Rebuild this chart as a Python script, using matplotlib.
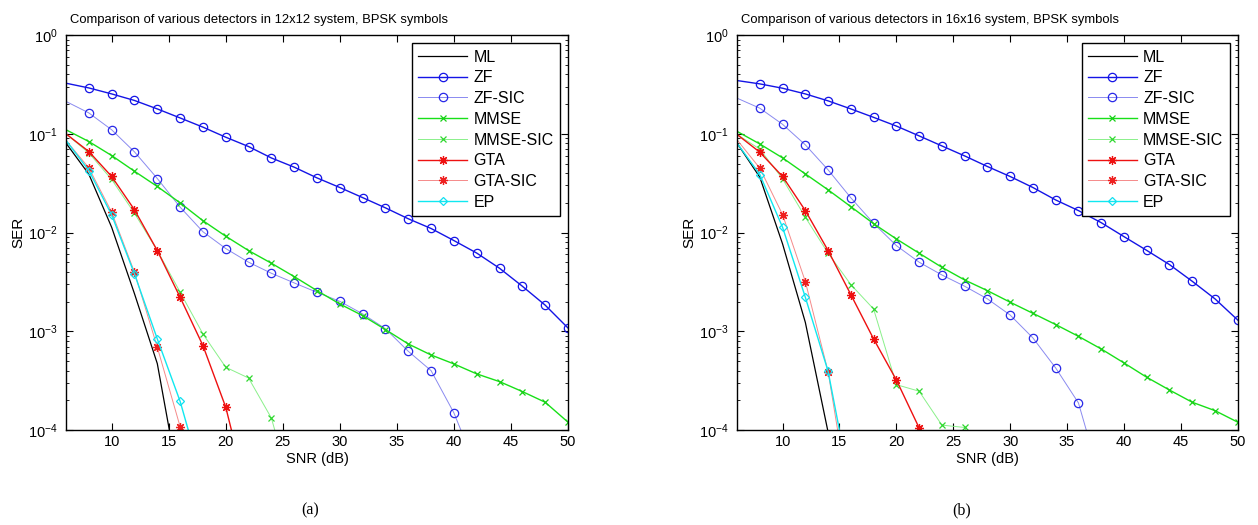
import numpy as np
import matplotlib
matplotlib.use("Agg")
import matplotlib.pyplot as plt

plt.rcParams["font.family"] = ["Liberation Sans", "DejaVu Sans"]
plt.rcParams["mathtext.fontset"] = "custom"
plt.rcParams["mathtext.rm"] = "Liberation Sans"
plt.rcParams["mathtext.it"] = "Liberation Sans:italic"

# SNR grid (dB), 2 dB steps
snr = np.arange(6, 52, 2)

# 12x12 system
zf_12 = [0.326, 0.292, 0.254, 0.218, 0.179, 0.145, 0.117, 0.0925, 0.0744, 0.057, 0.046, 0.0358,
         0.0286, 0.0226, 0.0178, 0.0138, 0.011, 0.0083, 0.0062, 0.00435, 0.00286, 0.00184, 0.00108]
zfsic_12 = [0.213, 0.163, 0.11, 0.0657, 0.0353, 0.0181, 0.0102, 0.00689, 0.00501, 0.00387, 0.00309,
            0.00248, 0.00201, 0.0015, 0.00106, 0.000627, 0.000399, 0.000149, 4e-5]
mmse_12 = [0.11, 0.0836, 0.0603, 0.0418, 0.0293, 0.02, 0.0132, 0.00918, 0.00657, 0.00489, 0.00358,
           0.00258, 0.00189, 0.00144, 0.00104, 0.000744, 0.000575, 0.000467, 0.00037, 0.000309,
           0.000245, 0.000191, 0.00012]
mmsesic_12 = [0.1, 0.064, 0.0345, 0.0157, 0.00657, 0.00249, 0.00094, 0.000432, 0.000336, 0.000132, 2e-5]
gta_12 = [0.1, 0.0662, 0.037, 0.017, 0.00657, 0.00221, 0.000716, 0.00017, 2e-5]
gtasic_12 = [0.0857, 0.0452, 0.0161, 0.00396, 0.000689, 0.000108, 1.5e-5]
ep_12 = [0.0857, 0.0425, 0.0151, 0.00381, 0.000836, 0.000195, 3e-5]
ml_12 = [0.0805, 0.039, 0.0113, 0.0024, 0.00047, 2.5e-5]

# 16x16 system
zf_16 = [0.347, 0.321, 0.29, 0.254, 0.216, 0.179, 0.147, 0.12, 0.0954, 0.0755, 0.0598, 0.0467,
         0.037, 0.0286, 0.0214, 0.0167, 0.0126, 0.0091, 0.0066, 0.00474, 0.00321, 0.00213, 0.0013]
zfsic_16 = [0.23, 0.182, 0.125, 0.0774, 0.0432, 0.0225, 0.0124, 0.00738, 0.00501, 0.00372, 0.00286,
            0.00213, 0.00146, 0.000856, 0.000425, 0.000188, 3e-5]
mmse_16 = [0.106, 0.079, 0.0571, 0.0393, 0.0271, 0.0183, 0.0123, 0.00862, 0.00618, 0.00445, 0.00331,
           0.00258, 0.00197, 0.00152, 0.00117, 0.000889, 0.000662, 0.000478, 0.000342, 0.000254,
           0.000191, 0.000157, 0.00012]
mmsesic_16 = [0.0986, 0.07, 0.035, 0.0143, 0.00618, 0.00297, 0.00168, 0.000288, 0.000247, 0.000112,
              0.000106, 3e-5]
gta_16 = [0.0986, 0.0652, 0.037, 0.0167, 0.00657, 0.00235, 0.000836, 0.000321, 0.000105, 1.5e-5]
gtasic_16 = [0.087, 0.0449, 0.0152, 0.00319, 0.00039, 1.5e-5]
ep_16 = [0.0805, 0.0387, 0.0113, 0.00221, 0.000393, 2.5e-5]
ml_16 = [0.0805, 0.0364, 0.00767, 0.00123, 9.5e-5]

labels = ["ML", "ZF", "ZF-SIC", "MMSE", "MMSE-SIC", "GTA", "GTA-SIC", "EP"]

# line colour, marker colour, marker, marker size, line width
styles = [
    ("black", "black", None, 0, 0.9),
    ("#1414e6", "#1414e6", "o", 6, 1.0),
    ("#8a8af0", "#2828e8", "o", 6, 0.7),
    ("#18e018", "#18d018", "x", 5, 1.0),
    ("#8af08a", "#30d830", "x", 5, 0.7),
    ("#ee1010", "#ee1010", (8, 2, 0), 6.5, 1.0),
    ("#f58a8a", "#ee2020", (8, 2, 0), 6.5, 0.7),
    ("#10e8f0", "#10e0f0", "D", 4.5, 1.0),
]


def draw_panel(ax, series, title):
    for (y, lab, (lc, mc, mk, ms, lw)) in zip(series, labels, styles):
        x = snr[:len(y)]
        kw = {}
        if mk is not None:
            kw = dict(marker=mk, markevery=slice(1, None), markerfacecolor="none",
                      markeredgecolor=mc, markeredgewidth=0.9, markersize=ms)
        ax.plot(x, y, color=lc, linewidth=lw, label=lab, **kw)

    ax.set_yscale("log")
    ax.set_xlim(6, 50)
    ax.set_ylim(1e-4, 1)
    ax.set_xticks(np.arange(10, 55, 5))
    ax.tick_params(which="both", direction="in", top=True, right=True, labelsize=10.5)
    ax.tick_params(which="major", length=5, width=0.8)
    ax.tick_params(which="minor", length=2.5, width=0.6)
    ax.tick_params(axis="y", pad=6)
    ax.set_xlabel("SNR (dB)", fontsize=10.5, labelpad=2)
    ax.set_ylabel("SER", fontsize=11, labelpad=2)
    ax.set_title(title, fontsize=9.4, x=0.385, pad=9)
    for s in ax.spines.values():
        s.set_linewidth(1.0)
    leg = ax.legend(loc="upper right", fontsize=11.5, handlelength=3.05, handletextpad=0.4,
                    labelspacing=0.36, borderpad=0.4, fancybox=False, framealpha=1,
                    edgecolor="black", borderaxespad=0.5)
    leg.get_frame().set_linewidth(1.0)


fig = plt.figure(figsize=(12.58, 5.25), dpi=100)
ax1 = fig.add_axes([0.0525, 0.181, 0.399, 0.752])
ax2 = fig.add_axes([0.5859, 0.181, 0.398, 0.752])

draw_panel(ax1, [ml_12, zf_12, zfsic_12, mmse_12, mmsesic_12, gta_12, gtasic_12, ep_12],
           "Comparison of various detectors in 12x12 system, BPSK symbols")
draw_panel(ax2, [ml_16, zf_16, zfsic_16, mmse_16, mmsesic_16, gta_16, gtasic_16, ep_16],
           "Comparison of various detectors in 16x16 system, BPSK symbols")

fig.text(310 / 1258, 1 - 510 / 525, "(a)", ha="center", va="center",
         fontsize=11.5, family="Liberation Serif")
fig.text(962 / 1258, 1 - 510 / 525, "(b)", ha="center", va="center",
         fontsize=11.5, family="Liberation Serif")

fig.savefig("out.png", dpi=100)
